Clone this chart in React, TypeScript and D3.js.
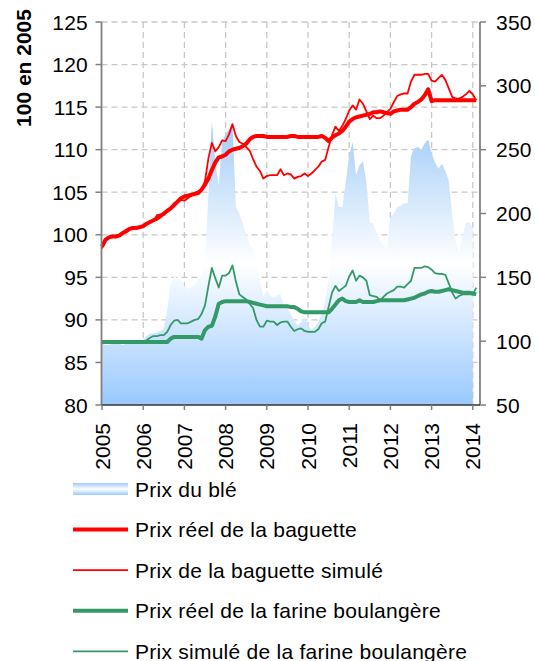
import React from "react";
import * as d3 from "d3";

const years = [2005, 2006, 2007, 2008, 2009, 2010, 2011, 2012, 2013, 2014];
const leftTicks = [80, 85, 90, 95, 100, 105, 110, 115, 120, 125];
const rightTicks = [50, 100, 150, 200, 250, 300, 350];

// Monthly values, Jan 2005 onward
const baguetteReelle = [
  98.6, 99.4, 99.7, 99.8, 99.8, 99.9, 100.2, 100.4, 100.7, 100.8, 100.8, 100.9,
  101.0, 101.3, 101.5, 101.7, 101.9, 102.2, 102.5, 102.8, 103.1, 103.5, 103.9, 104.3,
  104.5, 104.6, 104.7, 104.8, 104.9, 105.3, 105.9, 106.6, 107.6, 108.5, 109.1, 109.2,
  109.4, 109.8, 110.0, 110.1, 110.2, 110.4, 110.7, 111.2, 111.5, 111.6, 111.6, 111.6,
  111.5, 111.5, 111.5, 111.5, 111.5, 111.5, 111.5, 111.6, 111.6, 111.5, 111.5, 111.5,
  111.5, 111.5, 111.5, 111.5, 111.6, 111.4, 111.0, 111.4, 111.7, 111.9, 112.2, 112.7,
  113.3, 113.6, 113.8, 113.9, 114.0, 114.1, 114.2, 114.4, 114.4, 114.5, 114.4, 114.3,
  114.2, 114.5, 114.6, 114.7, 114.7, 114.7, 115.0, 115.4, 115.6, 115.9, 116.4, 117.1,
  115.7, 115.8, 115.8, 115.8, 115.8, 115.8, 115.8, 115.8, 115.8, 115.8, 115.8, 115.8,
  115.8, 115.8,
];

const baguetteSimulee = [
  98.4, 99.5, 99.6, 99.9, 99.7, 100.0, 100.1, 100.6, 100.6, 100.9, 100.7, 101.0,
  101.1, 101.2, 101.6, 101.6, 102.3, 102.4, 102.3, 102.9, 103.0, 103.7, 103.8, 104.1,
  104.0, 104.3, 104.6, 104.9, 105.1, 105.2, 106.3, 109.0, 110.8, 109.8, 110.3, 111.1,
  111.0, 111.8, 113.0, 111.6, 110.9, 110.7, 110.3, 109.9, 108.9, 108.0, 107.5, 106.6,
  106.9, 107.0, 107.0, 107.0, 107.7, 107.0, 107.2, 107.1, 106.6, 106.8, 106.9, 107.2,
  106.9, 107.2, 107.6, 108.0, 108.6, 108.8, 110.3, 111.7, 112.7, 112.2, 112.8, 113.6,
  114.6, 115.2, 114.7, 115.9, 115.4, 114.5, 113.6, 114.0, 113.7, 113.7, 114.0, 114.4,
  114.8, 115.6, 116.3, 116.5, 116.6, 116.6, 118.0, 118.8, 118.8, 118.8, 118.9, 118.9,
  118.1, 118.0, 118.4, 118.8, 118.2, 117.2, 116.2, 116.0, 116.0, 116.2, 116.5, 116.9,
  116.5, 115.8,
];

const farineReelle = [
  87.4, 87.4, 87.4, 87.4, 87.4, 87.4, 87.4, 87.4, 87.4, 87.4, 87.4, 87.4,
  87.4, 87.4, 87.4, 87.4, 87.4, 87.4, 87.4, 87.4, 87.8, 88.0, 88.0, 88.0,
  88.0, 88.0, 88.0, 88.0, 88.0, 87.8, 88.8, 89.2, 89.3, 90.4, 91.9, 92.1,
  92.2, 92.2, 92.2, 92.2, 92.2, 92.2, 92.2, 92.1, 92.0, 91.9, 91.8, 91.7,
  91.6, 91.6, 91.6, 91.6, 91.6, 91.6, 91.6, 91.5, 91.5, 91.3, 91.0, 90.9,
  90.9, 90.9, 90.9, 90.9, 90.9, 90.9, 90.9, 91.3, 91.8, 92.3, 92.5, 92.2,
  92.1, 92.1, 92.1, 92.3, 92.1, 92.1, 92.1, 92.1, 92.2, 92.3, 92.3, 92.3,
  92.3, 92.3, 92.3, 92.3, 92.3, 92.4, 92.5, 92.6, 92.8, 93.0, 93.1, 93.3,
  93.4, 93.3, 93.3, 93.4, 93.5, 93.6, 93.5, 93.4, 93.3, 93.2, 93.2, 93.2,
  93.1, 93.0,
];

const farineSimulee = [
  87.4, 87.4, 87.4, 87.4, 87.4, 87.4, 87.4, 87.4, 87.4, 87.4, 87.4, 87.4,
  87.4, 87.6, 87.9, 88.1, 88.1, 88.2, 88.2, 88.6, 89.4, 89.9, 90.0, 89.6,
  89.6, 89.6, 89.8, 90.0, 90.1, 90.7, 91.7, 94.0, 96.1, 94.9, 93.8, 95.2,
  95.2, 95.5, 96.4, 94.5, 93.0, 92.7, 92.4, 91.9, 91.4, 90.0, 89.2, 89.2,
  89.9, 89.8, 89.8, 89.4, 89.7, 89.8, 89.8, 89.2, 88.7, 88.9, 89.0, 88.7,
  88.6, 88.6, 88.6, 88.9, 89.6, 89.8, 91.5, 93.2, 94.0, 93.4, 93.7, 94.0,
  95.1, 95.8, 94.6, 95.2, 95.0, 94.6, 92.9, 92.8, 92.7, 92.3, 92.7, 93.1,
  93.3, 93.5, 93.9, 93.9, 93.8, 94.2, 94.6, 96.1, 96.1, 96.1, 96.3, 96.2,
  95.9, 95.5, 95.4, 95.4, 95.3, 94.3, 93.2, 92.5, 92.8, 93.0, 93.0, 93.0,
  93.0, 93.8,
];

const prixBle = [
  98, 97, 97, 98, 99, 98, 97, 98, 99, 100, 100, 101,
  101, 104, 106, 106, 107, 108, 110, 125, 145, 151, 149, 148,
  143, 141, 142, 144, 148, 152, 165, 215, 272, 240, 222, 256,
  262, 266, 271, 205, 200, 192, 184, 176, 172, 160, 148, 135,
  140, 136, 134, 136, 137, 128, 126, 121, 116, 112, 115, 119,
  112, 109, 111, 115, 122, 130, 150, 180, 215, 205, 205, 225,
  245, 256, 230, 238, 241, 225, 193, 192, 185, 178, 175, 173,
  197, 200, 205, 206, 208, 208, 245, 251, 252, 250, 255, 258,
  247, 240, 235, 239, 233, 226, 199, 178, 170, 183, 193, 193,
  189,
];

const legendItems = [
  { label: "Prix du blé", kind: "area" },
  { label: "Prix réel de la baguette", kind: "line", color: "#ff0000", width: 4 },
  { label: "Prix de la baguette simulé", kind: "line", color: "#ff0000", width: 1.8 },
  { label: "Prix réel de la farine boulangère", kind: "line", color: "#339966", width: 4 },
  { label: "Prix simulé de la farine boulangère", kind: "line", color: "#339966", width: 1.8 },
];

const FONT = "'Liberation Sans', Arial, sans-serif";
const FS = 21;
const LS = 0.25;

export default function App() {
  const left = 101.5;
  const right = 480;
  const top = 22;
  const bottom = 405;

  const x = d3.scaleLinear().domain([2005, 2014]).range([102, 472.8]);
  const yL = d3.scaleLinear().domain([80, 125]).range([bottom, top]);
  const yR = d3.scaleLinear().domain([50, 350]).range([bottom, top]);
  const t = (i: number) => 2005 + i / 12;

  const lineL = d3
    .line<number>()
    .x((_, i) => x(t(i)))
    .y((d) => yL(d));
  const area = d3
    .area<number>()
    .x((_, i) => x(t(i)))
    .y0(yR(50))
    .y1((d) => yR(d));

  const series = [
    { data: baguetteReelle, color: "#ff0000", width: 4 },
    { data: baguetteSimulee, color: "#ff0000", width: 1.8 },
    { data: farineReelle, color: "#339966", width: 4 },
    { data: farineSimulee, color: "#339966", width: 1.8 },
  ];

  const grid = "#c8c8c8";
  const axisCol = "#808080";

  return (
    <svg
      width={535}
      height={661}
      style={{ position: "absolute", left: 0, top: 0, background: "#fff" }}
      fontFamily={FONT}
    >
      <defs>
        <linearGradient id="ble" x1="0" y1="0" x2="0" y2="1">
          <stop offset="0" stopColor="#a0cbf8" />
          <stop offset="0.5" stopColor="#ffffff" />
          <stop offset="1" stopColor="#99c9ff" />
        </linearGradient>
      </defs>

      {leftTicks
        .filter((v) => v > 80)
        .map((v) => (
          <line
            key={"h" + v}
            x1={left}
            x2={right}
            y1={yL(v)}
            y2={yL(v)}
            stroke={grid}
            strokeWidth={1.3}
            strokeDasharray="6 4"
          />
        ))}
      {years
        .filter((y) => y > 2005)
        .map((y) => (
          <line
            key={"v" + y}
            x1={x(y)}
            x2={x(y)}
            y1={top}
            y2={bottom}
            stroke={grid}
            strokeWidth={1.3}
            strokeDasharray="6 4"
          />
        ))}

      <path d={area(prixBle) || ""} fill="url(#ble)" stroke="none" />

      {series.map((s, k) => (
        <path
          key={k}
          d={lineL(s.data) || ""}
          fill="none"
          stroke={s.color}
          strokeWidth={s.width}
          strokeLinejoin="round"
        />
      ))}

      <line x1={left} x2={left} y1={top} y2={bottom} stroke={axisCol} strokeWidth={1.8} />
      <line x1={right} x2={right} y1={top} y2={bottom} stroke={axisCol} strokeWidth={1.8} />
      <line x1={left} x2={right} y1={bottom} y2={bottom} stroke="#333" strokeWidth={1.5} />

      {leftTicks.map((v) => (
        <g key={"lt" + v}>
          <line x1={left - 6} x2={left} y1={yL(v)} y2={yL(v)} stroke={axisCol} strokeWidth={1.5} />
          <text x={88} y={yL(v)} dy="0.36em" textAnchor="end" fontSize={FS} letterSpacing={LS} fill="#000">
            {v}
          </text>
        </g>
      ))}
      {rightTicks.map((v) => (
        <g key={"rt" + v}>
          <line x1={right} x2={right + 6} y1={yR(v)} y2={yR(v)} stroke={axisCol} strokeWidth={1.5} />
          <text x={496} y={yR(v)} dy="0.36em" textAnchor="start" fontSize={FS} letterSpacing={LS} fill="#000">
            {v}
          </text>
        </g>
      ))}
      {years.map((y) => (
        <g key={"xt" + y}>
          <line x1={x(y)} x2={x(y)} y1={bottom} y2={bottom + 5} stroke={axisCol} strokeWidth={1.5} />
          <text
            transform={`translate(${x(y)},${423}) rotate(-90)`}
            dy="0.36em"
            textAnchor="end"
            fontSize={FS}
            fill="#000"
          >
            {y}
          </text>
        </g>
      ))}

      <text
        transform="translate(23,68) rotate(-90)"
        dy="0.36em"
        textAnchor="middle"
        fontSize={FS}
        fontWeight="bold"
        fill="#000"
      >
        100 en 2005
      </text>

      {legendItems.map((it, k) => {
        const cy = 489 + k * 40.6;
        return (
          <g key={"lg" + k}>
            {it.kind === "area" ? (
              <rect x={73} y={cy - 6} width={55} height={12} fill="url(#ble)" />
            ) : (
              <line x1={73} x2={128} y1={cy} y2={cy} stroke={it.color} strokeWidth={it.width} />
            )}
            <text x={135} y={cy} dy="0.36em" fontSize={FS} letterSpacing={LS} fill="#000">
              {it.label}
            </text>
          </g>
        );
      })}
    </svg>
  );
}
